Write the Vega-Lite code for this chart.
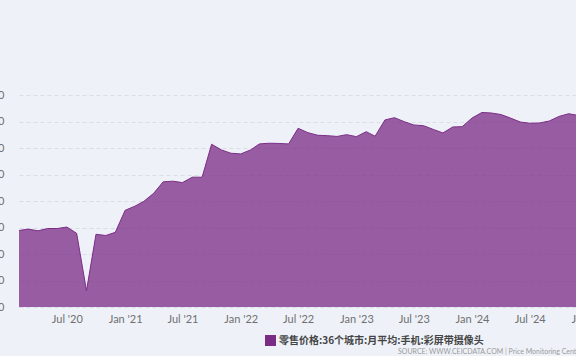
{
  "$schema": "https://vega.github.io/schema/vega-lite/v6.json",
  "autosize": {"type": "none"},
  "width": 557,
  "height": 212,
  "padding": {"left": 19, "top": 95, "right": 0, "bottom": 49},
  "background": "#eef2f8",
  "title": {
    "text": "SOURCE: WWW.CEICDATA.COM | Price Monitoring Center, NDRC",
    "orient": "bottom",
    "anchor": "start",
    "frame": "group",
    "dx": 379,
    "offset": 2,
    "fontSize": 7,
    "font": "Lato",
    "fontWeight": "normal",
    "color": "#9a9a9a"
  },
  "data": {
    "values": [
      {"date": "2020-02-01", "value": 1443, "series": "零售价格:36个城市:月平均:手机:彩屏带摄像头"},
      {"date": "2020-03-01", "value": 1470, "series": "零售价格:36个城市:月平均:手机:彩屏带摄像头"},
      {"date": "2020-04-01", "value": 1437, "series": "零售价格:36个城市:月平均:手机:彩屏带摄像头"},
      {"date": "2020-05-01", "value": 1481, "series": "零售价格:36个城市:月平均:手机:彩屏带摄像头"},
      {"date": "2020-06-01", "value": 1481, "series": "零售价格:36个城市:月平均:手机:彩屏带摄像头"},
      {"date": "2020-07-01", "value": 1509, "series": "零售价格:36个城市:月平均:手机:彩屏带摄像头"},
      {"date": "2020-08-01", "value": 1390, "series": "零售价格:36个城市:月平均:手机:彩屏带摄像头"},
      {"date": "2020-09-01", "value": 307, "series": "零售价格:36个城市:月平均:手机:彩屏带摄像头"},
      {"date": "2020-10-01", "value": 1372, "series": "零售价格:36个城市:月平均:手机:彩屏带摄像头"},
      {"date": "2020-11-01", "value": 1349, "series": "零售价格:36个城市:月平均:手机:彩屏带摄像头"},
      {"date": "2020-12-01", "value": 1409, "series": "零售价格:36个城市:月平均:手机:彩屏带摄像头"},
      {"date": "2021-01-01", "value": 1824, "series": "零售价格:36个城市:月平均:手机:彩屏带摄像头"},
      {"date": "2021-02-01", "value": 1903, "series": "零售价格:36个城市:月平均:手机:彩屏带摄像头"},
      {"date": "2021-03-01", "value": 1993, "series": "零售价格:36个城市:月平均:手机:彩屏带摄像头"},
      {"date": "2021-04-01", "value": 2144, "series": "零售价格:36个城市:月平均:手机:彩屏带摄像头"},
      {"date": "2021-05-01", "value": 2361, "series": "零售价格:36个城市:月平均:手机:彩屏带摄像头"},
      {"date": "2021-06-01", "value": 2374, "series": "零售价格:36个城市:月平均:手机:彩屏带摄像头"},
      {"date": "2021-07-01", "value": 2347, "series": "零售价格:36个城市:月平均:手机:彩屏带摄像头"},
      {"date": "2021-08-01", "value": 2449, "series": "零售价格:36个城市:月平均:手机:彩屏带摄像头"},
      {"date": "2021-09-01", "value": 2449, "series": "零售价格:36个城市:月平均:手机:彩屏带摄像头"},
      {"date": "2021-10-01", "value": 3071, "series": "零售价格:36个城市:月平均:手机:彩屏带摄像头"},
      {"date": "2021-11-01", "value": 2964, "series": "零售价格:36个城市:月平均:手机:彩屏带摄像头"},
      {"date": "2021-12-01", "value": 2901, "series": "零售价格:36个城市:月平均:手机:彩屏带摄像头"},
      {"date": "2022-01-01", "value": 2888, "series": "零售价格:36个城市:月平均:手机:彩屏带摄像头"},
      {"date": "2022-02-01", "value": 2964, "series": "零售价格:36个城市:月平均:手机:彩屏带摄像头"},
      {"date": "2022-03-01", "value": 3077, "series": "零售价格:36个城市:月平均:手机:彩屏带摄像头"},
      {"date": "2022-04-01", "value": 3090, "series": "零售价格:36个城市:月平均:手机:彩屏带摄像头"},
      {"date": "2022-05-01", "value": 3086, "series": "零售价格:36个城市:月平均:手机:彩屏带摄像头"},
      {"date": "2022-06-01", "value": 3077, "series": "零售价格:36个城市:月平均:手机:彩屏带摄像头"},
      {"date": "2022-07-01", "value": 3372, "series": "零售价格:36个城市:月平均:手机:彩屏带摄像头"},
      {"date": "2022-08-01", "value": 3289, "series": "零售价格:36个城市:月平均:手机:彩屏带摄像头"},
      {"date": "2022-09-01", "value": 3240, "series": "零售价格:36个城市:月平均:手机:彩屏带摄像头"},
      {"date": "2022-10-01", "value": 3233, "series": "零售价格:36个城市:月平均:手机:彩屏带摄像头"},
      {"date": "2022-11-01", "value": 3218, "series": "零售价格:36个城市:月平均:手机:彩屏带摄像头"},
      {"date": "2022-12-01", "value": 3252, "series": "零售价格:36个城市:月平均:手机:彩屏带摄像头"},
      {"date": "2023-01-01", "value": 3214, "series": "零售价格:36个城市:月平均:手机:彩屏带摄像头"},
      {"date": "2023-02-01", "value": 3308, "series": "零售价格:36个城市:月平均:手机:彩屏带摄像头"},
      {"date": "2023-03-01", "value": 3222, "series": "零售价格:36个城市:月平均:手机:彩屏带摄像头"},
      {"date": "2023-04-01", "value": 3529, "series": "零售价格:36个城市:月平均:手机:彩屏带摄像头"},
      {"date": "2023-05-01", "value": 3572, "series": "零售价格:36个城市:月平均:手机:彩屏带摄像头"},
      {"date": "2023-06-01", "value": 3497, "series": "零售价格:36个城市:月平均:手机:彩屏带摄像头"},
      {"date": "2023-07-01", "value": 3435, "series": "零售价格:36个城市:月平均:手机:彩屏带摄像头"},
      {"date": "2023-08-01", "value": 3421, "series": "零售价格:36个城市:月平均:手机:彩屏带摄像头"},
      {"date": "2023-09-01", "value": 3350, "series": "零售价格:36个城市:月平均:手机:彩屏带摄像头"},
      {"date": "2023-10-01", "value": 3284, "series": "零售价格:36个城市:月平均:手机:彩屏带摄像头"},
      {"date": "2023-11-01", "value": 3397, "series": "零售价格:36个城市:月平均:手机:彩屏带摄像头"},
      {"date": "2023-12-01", "value": 3403, "series": "零售价格:36个城市:月平均:手机:彩屏带摄像头"},
      {"date": "2024-01-01", "value": 3566, "series": "零售价格:36个城市:月平均:手机:彩屏带摄像头"},
      {"date": "2024-02-01", "value": 3670, "series": "零售价格:36个城市:月平均:手机:彩屏带摄像头"},
      {"date": "2024-03-01", "value": 3661, "series": "零售价格:36个城市:月平均:手机:彩屏带摄像头"},
      {"date": "2024-04-01", "value": 3632, "series": "零售价格:36个城市:月平均:手机:彩屏带摄像头"},
      {"date": "2024-05-01", "value": 3566, "series": "零售价格:36个城市:月平均:手机:彩屏带摄像头"},
      {"date": "2024-06-01", "value": 3491, "series": "零售价格:36个城市:月平均:手机:彩屏带摄像头"},
      {"date": "2024-07-01", "value": 3467, "series": "零售价格:36个城市:月平均:手机:彩屏带摄像头"},
      {"date": "2024-08-01", "value": 3472, "series": "零售价格:36个城市:月平均:手机:彩屏带摄像头"},
      {"date": "2024-09-01", "value": 3510, "series": "零售价格:36个城市:月平均:手机:彩屏带摄像头"},
      {"date": "2024-10-01", "value": 3595, "series": "零售价格:36个城市:月平均:手机:彩屏带摄像头"},
      {"date": "2024-11-01", "value": 3647, "series": "零售价格:36个城市:月平均:手机:彩屏带摄像头"},
      {"date": "2024-12-01", "value": 3614, "series": "零售价格:36个城市:月平均:手机:彩屏带摄像头"},
      {"date": "2025-01-01", "value": 3604, "series": "零售价格:36个城市:月平均:手机:彩屏带摄像头"}
    ]
  },
  "mark": {
    "type": "area",
    "fillOpacity": 0.76,
    "line": {"strokeWidth": 1},
    "interpolate": "linear"
  },
  "encoding": {
    "x": {
      "field": "date",
      "type": "temporal",
      "scale": {
        "type": "utc",
        "domain": [
          {"year": 2020, "month": 2, "date": 1, "utc": true},
          {"year": 2025, "month": 1, "date": 1, "utc": true}
        ],
        "range": [0, 569]
      },
      "axis": {
        "title": null,
        "format": "%b '%y",
        "tickCount": {"interval": "month", "step": 6},
        "ticks": false,
        "domain": false,
        "grid": false,
        "labelFlush": false,
        "labelOverlap": false,
        "labelPadding": 6,
        "labelFont": "Lato",
        "labelFontSize": 11,
        "labelColor": "#6f6f6f"
      }
    },
    "y": {
      "field": "value",
      "type": "quantitative",
      "scale": {"domain": [0, 4000], "nice": false},
      "axis": {
        "title": null,
        "values": [0, 500, 1000, 1500, 2000, 2500, 3000, 3500, 4000],
        "ticks": false,
        "domain": false,
        "labelPadding": 15,
        "labelFont": "Lato",
        "labelFontSize": 11,
        "labelColor": "#6f6f6f",
        "gridColor": "#d9dee6",
        "gridDash": [4, 3],
        "gridWidth": 1
      }
    },
    "color": {
      "field": "series",
      "type": "nominal",
      "scale": {"range": ["#7b2d86"]},
      "legend": {
        "title": null,
        "orient": "none",
        "legendX": 246,
        "legendY": 240,
        "padding": 0,
        "symbolType": "square",
        "symbolSize": 121,
        "symbolOpacity": 1,
        "symbolStrokeWidth": 0,
        "labelOffset": 3,
        "labelFont": "Noto Sans CJK SC",
        "labelFontSize": 10,
        "labelFontWeight": "bold",
        "labelColor": "#444444",
        "labelLimit": 400
      }
    }
  },
  "config": {
    "view": {"stroke": null}
  }
}
